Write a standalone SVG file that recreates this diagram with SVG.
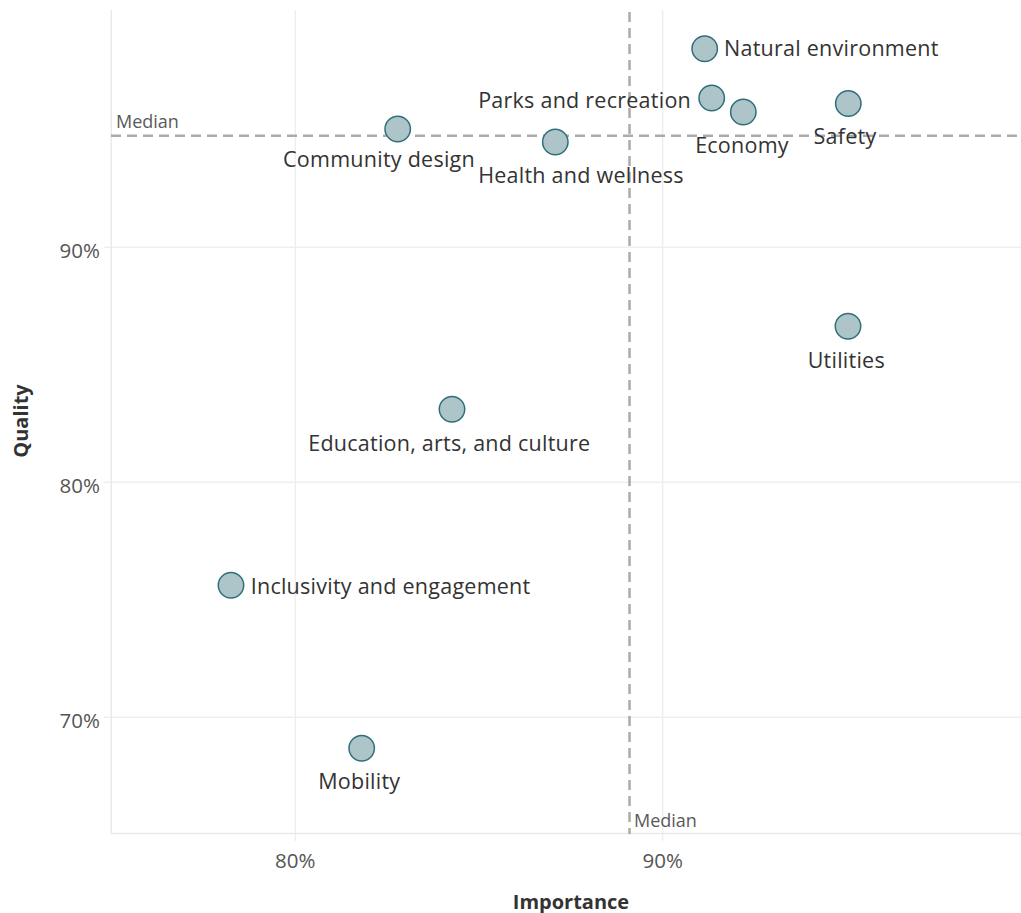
<svg xmlns="http://www.w3.org/2000/svg" width="1021" height="913" viewBox="0 0 1021 913">
<style>
.grid{stroke:#efefef;stroke-width:1.5;fill:none}
.axis{stroke:#eaeaea;stroke-width:1.5;fill:none}
.median{stroke:#ababab;stroke-width:2.5;stroke-dasharray:10 6;fill:none}
.dot{fill:#adc5c9;stroke:#2f6f7a;stroke-width:1.5}
.lbl{font-family:"Open Sans","Noto Sans",sans-serif;font-size:21.5px;letter-spacing:0.25px;fill:#333}
.tick{font-family:"Open Sans","Noto Sans",sans-serif;font-size:20.5px;fill:#555}
.med{font-family:"Open Sans","Noto Sans",sans-serif;font-size:18px;fill:#5a5a5a}
.title{font-family:"Open Sans","Noto Sans",sans-serif;font-size:20px;font-weight:bold;fill:#333}
</style>
<rect width="1021" height="913" fill="#ffffff"/>
<g id="gridlines">
<line class="grid" x1="295.3" y1="10" x2="295.3" y2="841"/>
<line class="grid" x1="662.7" y1="10" x2="662.7" y2="841"/>
<line class="grid" x1="104" y1="247.3" x2="1021" y2="247.3"/>
<line class="grid" x1="104" y1="482.3" x2="1021" y2="482.3"/>
<line class="grid" x1="104" y1="717.3" x2="1021" y2="717.3"/>
<line class="axis" x1="111.3" y1="10" x2="111.3" y2="834"/>
<line class="axis" x1="111.3" y1="833.5" x2="1021" y2="833.5"/>
</g>
<g id="axes-labels">
<text class="tick" x="100" y="257.5" text-anchor="end">90%</text>
<text class="tick" x="100" y="492.5" text-anchor="end">80%</text>
<text class="tick" x="100" y="727.5" text-anchor="end">70%</text>
<text class="tick" x="295.3" y="867.5" text-anchor="middle">80%</text>
<text class="tick" x="662.7" y="867.5" text-anchor="middle">90%</text>
<text class="title" x="571" y="909" text-anchor="middle">Importance</text>
<text class="title" x="0" y="0" text-anchor="middle" transform="translate(28 421) rotate(-90)">Quality</text>
</g>
<g id="connectors">
<line class="median" x1="111" y1="135.7" x2="1021" y2="135.7"/>
<line class="median" x1="629.5" y1="12" x2="629.5" y2="834"/>
<text class="med" x="116" y="128">Median</text>
<text class="med" x="634" y="827">Median</text>
</g>
<g id="natural-environment"><circle class="dot" cx="704.7" cy="48.7" r="12.7"/><text class="lbl" x="724" y="55.5">Natural environment</text></g>
<g id="parks-and-recreation"><circle class="dot" cx="711.7" cy="98" r="12.7"/><text class="lbl" x="691" y="107.5" text-anchor="end">Parks and recreation</text></g>
<g id="economy"><circle class="dot" cx="743.3" cy="112" r="12.7"/><text class="lbl" x="742" y="152.5" text-anchor="middle">Economy</text></g>
<g id="safety"><circle class="dot" cx="848.3" cy="103.5" r="12.7"/><text class="lbl" x="845" y="143.5" text-anchor="middle">Safety</text></g>
<g id="community-design"><circle class="dot" cx="397.7" cy="129" r="12.7"/><text class="lbl" x="379" y="166.5" text-anchor="middle">Community design</text></g>
<g id="health-and-wellness"><circle class="dot" cx="555.3" cy="142" r="12.7"/><text class="lbl" x="581" y="182.5" text-anchor="middle">Health and wellness</text></g>
<g id="utilities"><circle class="dot" cx="848" cy="326.3" r="12.7"/><text class="lbl" x="846.3" y="367.5" text-anchor="middle">Utilities</text></g>
<g id="education-arts-culture"><circle class="dot" cx="452" cy="409.3" r="12.7"/><text class="lbl" x="449.3" y="450.5" text-anchor="middle">Education, arts, and culture</text></g>
<g id="inclusivity-engagement"><circle class="dot" cx="231" cy="585.3" r="12.7"/><text class="lbl" x="250.7" y="593.5">Inclusivity and engagement</text></g>
<g id="mobility"><circle class="dot" cx="361.7" cy="748.3" r="12.7"/><text class="lbl" x="359.3" y="788.5" text-anchor="middle">Mobility</text></g>
</svg>
